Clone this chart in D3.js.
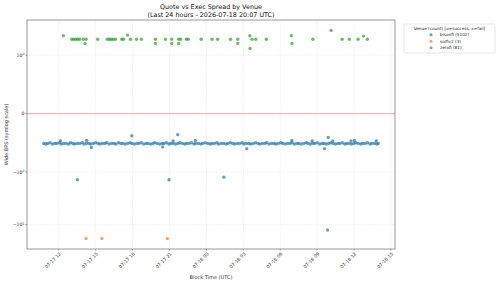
<!DOCTYPE html>
<html>
<head>
<meta charset="utf-8">
<script src="https://cdn.jsdelivr.net/npm/d3@7"></script>
<style>
  body { margin: 0; background: #fff; }
  svg { font-family: "DejaVu Sans", sans-serif; display: block; }
</style>
</head>
<body>
<div id="chart"></div>
<script>
// hours after 2026-07-17 00:00 UTC, spread in bps
var bisonfi = [
  [10.78,-0.51],[10.95,-0.52],[11.1,-0.51],[11.3,-0.50],[11.5,-0.52],[11.7,-0.51],[11.85,-0.51],[12.05,-0.50],
  [12.2,-0.52],[12.4,-0.51],[12.6,-0.51],[12.8,-0.52],[12.95,-0.50],[13.15,-0.51],[13.3,-0.52],[13.5,-0.51],
  [13.7,-0.51],[13.9,-0.50],[14.05,-0.52],[14.25,-0.51],[14.45,-0.51],[14.6,-0.52],[14.8,-0.51],[15.0,-0.50],
  [15.2,-0.51],[15.35,-0.52],[15.55,-0.51],[15.75,-0.51],[15.9,-0.50],[16.1,-0.52],[16.3,-0.51],[16.5,-0.51],
  [16.65,-0.52],[16.85,-0.50],[17.05,-0.51],[17.2,-0.51],[17.4,-0.52],[17.6,-0.51],[17.8,-0.50],[17.95,-0.51],
  [18.15,-0.52],[18.35,-0.51],[18.5,-0.51],[18.7,-0.50],[18.9,-0.52],[19.1,-0.51],[19.25,-0.51],[19.45,-0.52],
  [19.65,-0.51],[19.8,-0.50],[20.0,-0.51],[20.2,-0.52],[20.4,-0.51],[20.55,-0.51],[20.75,-0.50],[20.95,-0.52],
  [21.1,-0.51],[21.3,-0.51],[21.5,-0.52],[21.7,-0.51],[21.85,-0.50],[22.05,-0.51],[22.25,-0.52],[22.4,-0.51],
  [22.6,-0.51],[22.8,-0.50],[23.0,-0.52],[23.15,-0.51],[23.35,-0.51],[23.55,-0.52],[23.7,-0.51],[23.9,-0.50],
  [24.1,-0.51],[24.3,-0.52],[24.45,-0.51],[24.65,-0.51],[24.85,-0.50],[25.0,-0.52],[25.2,-0.51],[25.4,-0.51],
  [25.6,-0.52],[25.75,-0.51],[25.95,-0.50],[26.15,-0.51],[26.3,-0.52],[26.5,-0.51],[26.7,-0.51],[26.9,-0.50],
  [27.05,-0.52],[27.25,-0.51],[27.45,-0.51],[27.6,-0.52],[27.8,-0.51],[28.0,-0.50],[28.2,-0.51],[28.35,-0.52],
  [28.55,-0.51],[28.75,-0.51],[28.9,-0.50],[29.1,-0.52],[29.3,-0.51],[29.5,-0.51],[29.65,-0.52],[29.85,-0.51],
  [30.05,-0.50],[30.2,-0.51],[30.4,-0.52],[30.6,-0.51],[30.8,-0.51],[30.95,-0.50],[31.15,-0.52],[31.35,-0.51],
  [31.5,-0.51],[31.7,-0.52],[31.9,-0.51],[32.1,-0.50],[32.25,-0.51],[32.45,-0.52],[32.65,-0.51],[32.8,-0.51],
  [33.0,-0.50],[33.2,-0.52],[33.4,-0.51],[33.55,-0.51],[33.75,-0.52],[33.95,-0.51],[34.1,-0.50],[34.3,-0.51],
  [34.5,-0.52],[34.7,-0.51],[34.85,-0.51],[35.05,-0.50],[35.25,-0.52],[35.4,-0.51],[35.6,-0.51],[35.8,-0.52],
  [36.0,-0.51],[36.15,-0.50],[36.35,-0.51],[36.55,-0.52],[36.7,-0.51],[36.9,-0.51],[37.1,-0.50],[37.3,-0.52],
  [37.45,-0.51],[37.65,-0.51],[37.85,-0.52],[37.97,-0.51],
  // outliers
  [12.14,-0.47],[14.27,-0.46],[14.65,-0.58],[17.94,-0.38],[20.45,-0.57],[21.3,-0.47],[21.67,-0.36],[23.1,-0.46],
  [27.28,-0.60],[30.95,-0.46],[32.6,-0.47],[33.6,-0.60],[33.9,-0.41],[34.27,-0.47],[35.76,-0.47],[36.03,-0.46],
  [37.8,-0.47],[13.51,-1.4],[20.97,-1.4],[25.42,-1.25],[33.85,-12.6]
];
var solfiv2 = [[14.22,-18.4],[15.51,-18.4],[20.83,-18.4]];
var zerofi = [
  [12.38,2.34],[13.05,2.0],[13.21,2.0],[13.38,2.0],[13.54,2.0],[13.70,2.0],[14.00,2.0],[14.22,2.0],[14.14,1.67],
  [15.16,2.0],[15.94,2.0],[16.11,2.0],[16.27,2.0],[16.43,2.0],[16.62,2.0],[17.13,2.0],[17.26,2.0],[17.59,2.4],
  [17.83,2.0],[18.32,2.0],[18.72,2.0],[19.86,2.0],[19.86,1.67],[20.67,2.0],[21.18,2.0],[21.18,1.67],[21.75,2.0],
  [21.75,1.67],[21.91,2.0],[22.37,2.0],[22.53,2.0],[23.58,2.0],[24.47,2.0],[24.91,2.0],[25.96,2.0],[26.55,2.0],
  [26.55,1.67],[27.53,2.34],[27.55,1.34],[27.71,2.0],[28.01,2.0],[28.88,2.0],[30.90,2.34],[30.95,1.67],[32.65,2.0],
  [34.14,2.95],[35.03,2.0],[35.62,2.0],[36.33,2.0],[36.76,2.3],[37.08,2.0]
];
var venues = ["bisonfi", "solfiv2", "zerofi"];
var venueCounts = [5102, 3, 81];
var venueColors = ["#1f77b4", "#ff7f0e", "#2ca02c"];
var yTickValues = [1, 0, -1, -10];

var width = 500, height = 284,
    margin = {left: 27, right: 105, top: 20, bottom: 35};

var svg = d3.select("#chart").append("svg")
  .attr("width", width)
  .attr("height", height);

var day0 = Date.UTC(2026, 6, 17);
function toDate(h) { return new Date(day0 + h * 3600000); }

// matplotlib style symlog, linthresh 1, base 10
var linAdj = 1 / (1 - 1 / 10);
function symlog(v) {
  var a = Math.abs(v);
  return Math.sign(v) * (a <= 1 ? a * linAdj : linAdj + Math.log10(a));
}

var series = [bisonfi, solfiv2, zerofi];
var all = [].concat(bisonfi, solfiv2, zerofi);

var hExt = d3.extent(all, function(d) { return d[0]; });
var hPad = (hExt[1] - hExt[0]) * 0.05;
var x = d3.scaleUtc()
  .domain([toDate(hExt[0] - hPad), toDate(hExt[1] + hPad)])
  .range([margin.left, width - margin.right]);

var tExt = d3.extent(all, function(d) { return symlog(d[1]); });
var tPad = (tExt[1] - tExt[0]) * 0.05;
var y = d3.scaleLinear()
  .domain([tExt[0] - tPad, tExt[1] + tPad])
  .range([height - margin.bottom, margin.top]);

var x0 = margin.left, x1 = width - margin.right,
    yTop = margin.top, yBot = height - margin.bottom;

var xTicks = x.ticks(d3.utcHour.every(3));
var fmt = d3.utcFormat("%m-%d %H");

// grid
var grid = svg.append("g");
grid.selectAll(".gx")
  .data(xTicks)
  .enter().append("line")
  .attr("x1", function(d) { return x(d); })
  .attr("x2", function(d) { return x(d); })
  .attr("y1", yTop).attr("y2", yBot)
  .attr("stroke", "#b0b0b0").attr("stroke-opacity", 0.35)
  .attr("stroke-width", 0.6).attr("stroke-dasharray", "1.2,1");
grid.selectAll(".gy")
  .data(yTickValues.filter(function(d) { return d !== 0; }))
  .enter().append("line")
  .attr("x1", x0).attr("x2", x1)
  .attr("y1", function(d) { return y(symlog(d)); })
  .attr("y2", function(d) { return y(symlog(d)); })
  .attr("stroke", "#b0b0b0").attr("stroke-opacity", 0.35)
  .attr("stroke-width", 0.6).attr("stroke-dasharray", "1.2,1");

// zero line
svg.append("line")
  .attr("x1", x0).attr("x2", x1)
  .attr("y1", y(0)).attr("y2", y(0))
  .attr("stroke", "#ffb3b3")
  .attr("stroke-width", 1.1);

// points
series.forEach(function(s, i) {
  svg.append("g").selectAll("circle")
    .data(s)
    .enter().append("circle")
    .attr("cx", function(d) { return x(toDate(d[0])); })
    .attr("cy", function(d) { return y(symlog(d[1])); })
    .attr("r", 1.7)
    .attr("fill", venueColors[i])
    .attr("fill-opacity", 0.7);
});

// frame
svg.append("rect")
  .attr("x", x0).attr("y", yTop)
  .attr("width", x1 - x0).attr("height", yBot - yTop)
  .attr("fill", "none").attr("stroke", "#555").attr("stroke-width", 0.6);

// x ticks
var xt = svg.append("g").selectAll("g")
  .data(xTicks)
  .enter().append("g")
  .attr("transform", function(d) { return "translate(" + x(d) + "," + yBot + ")"; });
xt.append("line").attr("y1", 0).attr("y2", 1.5).attr("stroke", "#444").attr("stroke-width", 0.5);
xt.append("text")
  .attr("transform", "translate(1.5,4) rotate(-45)")
  .attr("text-anchor", "end")
  .attr("dy", "0.35em")
  .attr("font-size", 4.6)
  .attr("fill", "#333")
  .text(function(d) { return fmt(d); });

// y ticks
var yt = svg.append("g").selectAll("g")
  .data(yTickValues)
  .enter().append("g")
  .attr("transform", function(d) { return "translate(" + x0 + "," + y(symlog(d)) + ")"; });
yt.append("line").attr("x1", 0).attr("x2", -1.5).attr("stroke", "#444").attr("stroke-width", 0.5);
var ytxt = yt.append("text")
  .attr("x", -2.5)
  .attr("dy", "0.35em")
  .attr("text-anchor", "end")
  .attr("font-size", 4.6)
  .attr("fill", "#333");
ytxt.each(function(d) {
  var t = d3.select(this);
  if (d === 0) { t.text("0"); return; }
  t.append("tspan").text((d < 0 ? "\u2212" : "") + "10");
  t.append("tspan").attr("dy", "-0.45em").attr("font-size", 3.3)
    .text(Math.round(Math.log10(Math.abs(d))));
});

// labels
svg.append("text")
  .attr("x", (x0 + x1) / 2).attr("y", 9)
  .attr("text-anchor", "middle").attr("font-size", 6.4).attr("fill", "#111")
  .text("Quote vs Exec Spread by Venue");
svg.append("text")
  .attr("x", (x0 + x1) / 2).attr("y", 17.3)
  .attr("text-anchor", "middle").attr("font-size", 6.4).attr("fill", "#111")
  .text("(Last 24 hours - 2026-07-18 20:07 UTC)");
svg.append("text")
  .attr("x", (x0 + x1) / 2).attr("y", 278.5)
  .attr("text-anchor", "middle").attr("font-size", 5).attr("fill", "#333")
  .text("Block Time (UTC)");
svg.append("text")
  .attr("transform", "translate(7.5," + ((yTop + yBot) / 2) + ") rotate(-90)")
  .attr("text-anchor", "middle").attr("font-size", 5).attr("fill", "#333")
  .text("Wide BPS (symlog scale)");

// legend
var lg = svg.append("g").attr("transform", "translate(404,24)");
lg.append("rect")
  .attr("width", 91).attr("height", 29).attr("rx", 1.2)
  .attr("fill", "#fff").attr("stroke", "#ccc").attr("stroke-width", 0.5);
lg.append("text")
  .attr("x", 45.5).attr("y", 5.6)
  .attr("text-anchor", "middle").attr("font-size", 4.2).attr("fill", "#222")
  .text("Venue (count)  [o=success, x=fail]");
var li = lg.selectAll(".li")
  .data(venues)
  .enter().append("g")
  .attr("transform", function(d, i) { return "translate(27," + (10.8 + i * 6.5) + ")"; });
li.append("circle").attr("r", 1.5)
  .attr("fill", function(d, i) { return venueColors[i]; })
  .attr("fill-opacity", 0.7);
li.append("text")
  .attr("x", 9).attr("dy", "0.35em")
  .attr("font-size", 4.2).attr("fill", "#222")
  .text(function(d, i) { return d + " (" + venueCounts[i] + ")"; });
</script>
</body>
</html>
